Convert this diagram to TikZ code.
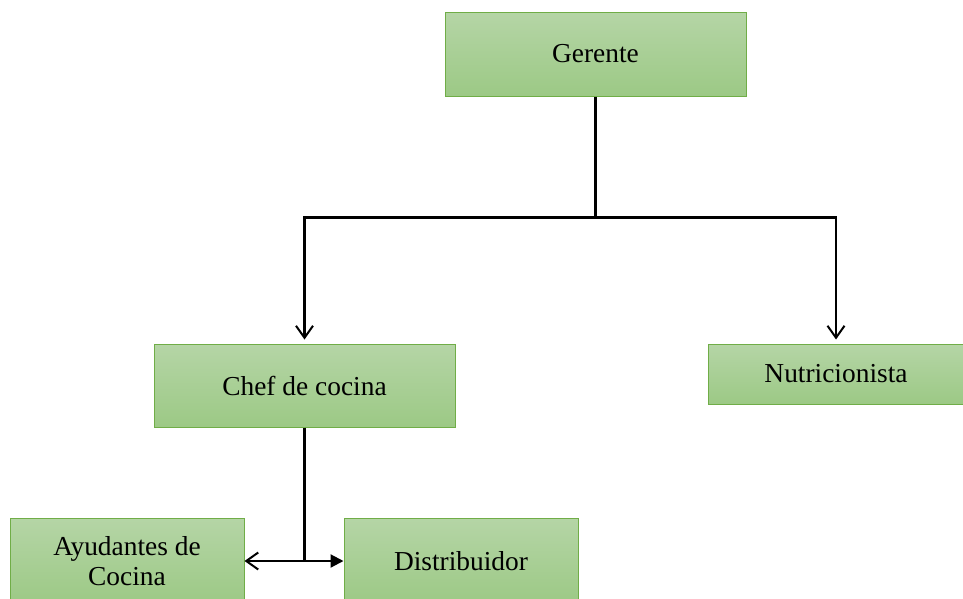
\documentclass[tikz,border=0pt]{standalone}
\usepackage{fontspec}
\setmainfont{Liberation Serif}
\usetikzlibrary{calc,arrows.meta}
\definecolor{boxtop}{HTML}{B5D5A6}
\definecolor{boxbot}{HTML}{9CC985}
\definecolor{boxline}{HTML}{70AD47}

\begin{document}
\begin{tikzpicture}[x=1pt,y=-1pt,
    puesto/.style={draw=boxline, line width=1pt, top color=boxtop, bottom color=boxbot,
        align=center, inner sep=0pt, font=\fontsize{27.4}{30}\selectfont},
    linea/.style={line width=2.2pt, black},
    abierta/.style={-{Straight Barb[length=12pt,width=17pt,line width=2pt]}}]
    \useasboundingbox (0,0) rectangle (963,598);

    % Gerente (top)
    \node[puesto, minimum width=301pt, minimum height=84pt] (gerente) at (595.5,54) {Gerente};

    % second level
    \node[puesto, minimum width=301pt, minimum height=83pt] (chef) at (304.5,385.5) {Chef de cocina};
    \node[puesto, minimum width=256pt, minimum height=60pt] (nutri) at (836,374) {Nutricionista};

    % third level
    \node[puesto, minimum width=234pt, minimum height=86pt] (ayud) at (127,561) {Ayudantes de\\Cocina};
    \node[puesto, minimum width=234pt, minimum height=86pt] (dist) at (461,561) {Distribuidor};

    % Gerente -> Chef, Nutricionista
    \coordinate (split) at ($(gerente.south)+(0,121)$);
    \draw[linea] (gerente.south) -- (split);
    \draw[linea, abierta, shorten >=4pt] (split) -| (chef.north);
    \draw[linea, abierta, shorten >=4pt] (split) -| (nutri.north);

    % Chef -> Ayudantes, Distribuidor
    \coordinate (fork) at (chef.south |- ayud.east);
    \draw[linea] (chef.south) -- (fork);
    \draw[linea, abierta] (fork) -- (ayud.east);
    \draw[linea, -{Triangle[length=13pt,width=13pt]}] (fork) -- (dist.west);
\end{tikzpicture}
\end{document}
